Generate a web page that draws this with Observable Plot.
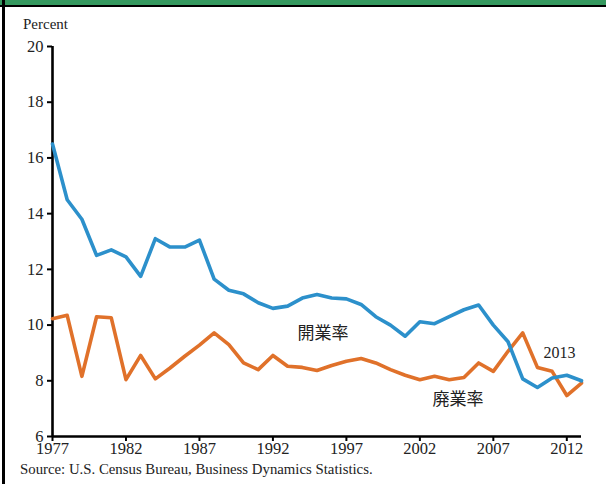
<!DOCTYPE html>
<html>
<head>
<meta charset="utf-8">
<script src="https://cdn.jsdelivr.net/npm/d3@7"></script>
<script src="https://cdn.jsdelivr.net/npm/@observablehq/plot@0.6"></script>
<style>
  html, body { margin: 0; padding: 0; background: #fff; }
  #page { position: relative; width: 606px; height: 484px; overflow: hidden; background: #fff; }
  #band { position: absolute; left: 0; top: 0; width: 606px; height: 5px; background: #35995f; }
  #rule { position: absolute; left: 0; top: 5px; width: 606px; height: 2px; background: #000; }
  #edge { position: absolute; left: 2px; top: 0; width: 3px; height: 484px; background: #000; }
  .serif { font-family: "Liberation Serif", "Times New Roman", Times, "DejaVu Serif", serif; }
  #unit { position: absolute; left: 23px; top: 16px; font-size: 15px; color: #222; }
  #source { position: absolute; left: 20px; top: 461px; font-size: 14.8px; color: #222; }
  #chart { position: absolute; left: 0; top: 0; }
</style>
</head>
<body>
<div id="page">
  <div id="chart"></div>
  <div id="band"></div>
  <div id="rule"></div>
  <div id="edge"></div>
  <div id="unit" class="serif">Percent</div>
  <div id="source" class="serif">Source: U.S. Census Bureau, Business Dynamics Statistics.</div>
</div>
<script>
// US establishment birth (開業率) and exit (廃業率) rates, percent
const years = [1977, 1978, 1979, 1980, 1981, 1982, 1983, 1984, 1985, 1986,
  1987, 1988, 1989, 1990, 1991, 1992, 1993, 1994, 1995, 1996,
  1997, 1998, 1999, 2000, 2001, 2002, 2003, 2004, 2005, 2006,
  2007, 2008, 2009, 2010, 2011, 2012, 2013];
const startupRate = [16.5, 14.5, 13.8, 12.5, 12.7, 12.45, 11.75, 13.1, 12.8, 12.8,
  13.05, 11.65, 11.25, 11.12, 10.8, 10.6, 10.68, 10.97, 11.1, 10.97,
  10.94, 10.74, 10.3, 10.0, 9.6, 10.12, 10.05, 10.3, 10.55, 10.72,
  10.0, 9.4, 8.07, 7.76, 8.1, 8.2, 8.0];
const closureRate = [10.23, 10.35, 8.16, 10.3, 10.26, 8.04, 8.91, 8.07, 8.46, 8.88,
  9.28, 9.72, 9.3, 8.64, 8.4, 8.91, 8.52, 8.48, 8.37, 8.55,
  8.7, 8.8, 8.64, 8.4, 8.2, 8.04, 8.16, 8.04, 8.12, 8.64,
  8.34, 9.06, 9.72, 8.48, 8.34, 7.47, 7.92];
const xTicks = [1977, 1982, 1987, 1992, 1997, 2002, 2007, 2012];
const yTicks = [6, 8, 10, 12, 14, 16, 18, 20];

// series name labels, placed in data units
const seriesLabels = [
  {text: "開業率", year: 1995.4, value: 9.7},
  {text: "廃業率", year: 2004.6, value: 7.33}
];
const yearLabels = [{text: "2013", year: 2011.5, value: 9.0}];

const startup = years.map((y, i) => ({year: y, value: startupRate[i]}));
const closure = years.map((y, i) => ({year: y, value: closureRate[i]}));

const serif = "'Liberation Serif', 'Times New Roman', Times, 'DejaVu Serif', serif";

const chart = Plot.plot({
  width: 606,
  height: 484,
  marginLeft: 52,
  marginRight: 25,
  marginTop: 46,
  marginBottom: 48,
  style: {fontFamily: serif, fontSize: "16px", color: "#222", background: "transparent"},
  x: {domain: [1977, 2013]},
  y: {domain: [6, 20]},
  marks: [
    Plot.axisY({ticks: yTicks, tickSize: 5, tickPadding: 4, label: null, stroke: "#000", strokeWidth: 2,
      fontFamily: serif, fontSize: 16.5}),
    Plot.axisX({ticks: xTicks, tickSize: 5, tickPadding: 1, label: null, tickFormat: d => String(d),
      stroke: "#000", strokeWidth: 2, fontFamily: serif, fontSize: 16.5}),
    Plot.ruleX([1977], {y1: 6, y2: 20, stroke: "#000", strokeWidth: 2.6}),
    Plot.ruleY([6], {x1: 1977, x2: 2013, stroke: "#000", strokeWidth: 2.6}),
    Plot.line(closure, {x: "year", y: "value", stroke: "#e0712a", strokeWidth: 3.6}),
    Plot.line(startup, {x: "year", y: "value", stroke: "#2c90cb", strokeWidth: 3.6}),
    Plot.text(seriesLabels, {x: "year", y: "value", text: "text", fontFamily: "'Noto Sans CJK JP', sans-serif", fontSize: 17, fill: "#222"}),
    Plot.text(yearLabels, {x: "year", y: "value", text: "text", fontFamily: serif, fontSize: 16, fill: "#222"})
  ]
});
document.getElementById("chart").appendChild(chart);
</script>
</body>
</html>
